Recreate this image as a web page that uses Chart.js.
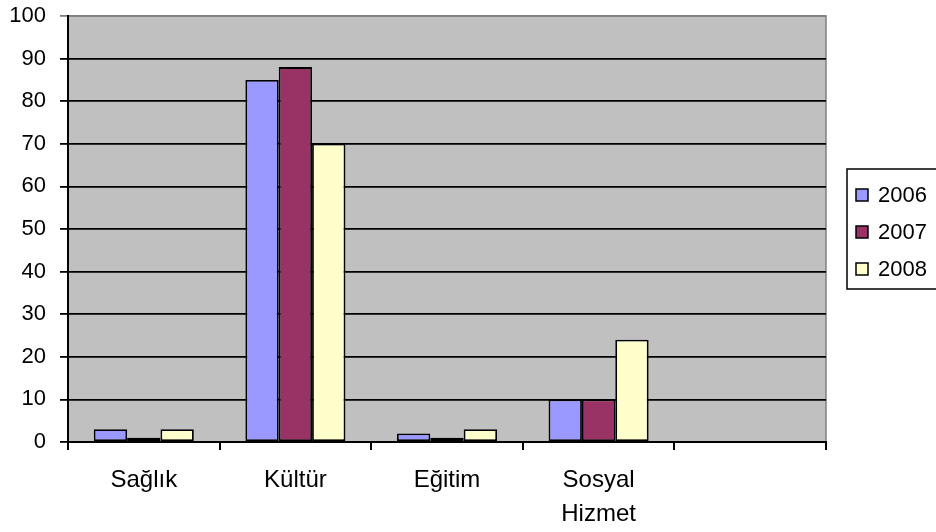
<!DOCTYPE html>
<html>
<head>
<meta charset="utf-8">
<script src="https://cdn.jsdelivr.net/npm/chart.js@4.4.1/dist/chart.umd.min.js"></script>
<style>
    html, body { margin: 0; padding: 0; background: #fff; overflow: hidden; }
    #wrap { width: 936px; height: 532px; position: relative; }
</style>
</head>
<body>
<div id="wrap"><canvas id="chart" width="936" height="532"></canvas></div>
<script>
// Chart data
const categories = ['Sağlık', 'Kültür', 'Eğitim', ['Sosyal', 'Hizmet'], ''];
const seriesNames = ['2006', '2007', '2008'];
const values2006 = [3, 85, 2, 10, null];
const values2007 = [1, 88, 1, 10, null];
const values2008 = [3, 70, 3, 24, null];
const yTicks = [0, 10, 20, 30, 40, 50, 60, 70, 80, 90, 100];

const colors = {
    s2006: '#9999FF',
    s2007: '#993366',
    s2008: '#FFFFCC',
    plotBg: '#C0C0C0',
    grid: '#000000',
    frame: '#808080',
    text: '#000000'
};

const FONT = "'Liberation Sans', Arial, sans-serif";

// gray plot background + frame
const plotBackground = {
    id: 'plotBackground',
    beforeDraw(chart) {
        const { ctx, chartArea: a } = chart;
        ctx.save();
        ctx.fillStyle = colors.plotBg;
        ctx.fillRect(a.left, a.top, a.right - a.left, a.bottom - a.top);
        ctx.strokeStyle = colors.frame;
        ctx.lineWidth = 1.5;
        ctx.beginPath();
        ctx.moveTo(a.left, a.top);
        ctx.lineTo(a.right, a.top);
        ctx.lineTo(a.right, a.bottom);
        ctx.stroke();
        ctx.restore();
    }
};

// boxed legend on the right, partly cut off by the canvas edge
const boxLegend = {
    id: 'boxLegend',
    afterDraw(chart) {
        const { ctx } = chart;
        const x = 847, y = 169, w = 110, h = 120;
        ctx.save();
        ctx.strokeStyle = '#000';
        ctx.lineWidth = 1.5;
        ctx.strokeRect(x, y, w, h);
        ctx.font = '22px ' + FONT;
        ctx.textBaseline = 'middle';
        chart.data.datasets.forEach((ds, i) => {
            const cy = 195 + i * 37;
            ctx.fillStyle = ds.backgroundColor;
            ctx.fillRect(856, cy - 6, 12, 12);
            ctx.strokeStyle = '#000';
            ctx.lineWidth = 1.5;
            ctx.strokeRect(856, cy - 6, 12, 12);
            ctx.fillStyle = colors.text;
            ctx.fillText(ds.label, 878, cy + 1);
        });
        ctx.restore();
    }
};

const ctx = document.getElementById('chart');

new Chart(ctx, {
    type: 'bar',
    data: {
        labels: categories,
        datasets: [
            { label: seriesNames[0], data: values2006, backgroundColor: colors.s2006 },
            { label: seriesNames[1], data: values2007, backgroundColor: colors.s2007 },
            { label: seriesNames[2], data: values2008, backgroundColor: colors.s2008 }
        ].map(d => Object.assign(d, {
            borderColor: '#000000',
            borderWidth: 1.8,
            borderSkipped: false,
            categoryPercentage: 0.66,
            barPercentage: 1
        }))
    },
    options: {
        responsive: false,
        animation: false,
        layout: { padding: { top: 16, right: 110, left: 0, bottom: 0 } },
        plugins: {
            legend: { display: false },
            tooltip: { enabled: false }
        },
        scales: {
            x: {
                afterFit(scale) {
                    scale.height = 90;
                    scale.paddingLeft = 0;
                    scale.paddingRight = 0;
                },
                grid: {
                    offset: true,
                    drawOnChartArea: false,
                    drawTicks: true,
                    tickLength: 8,
                    color: colors.grid,
                    lineWidth: 2
                },
                border: { color: colors.grid, width: 2 },
                ticks: {
                    color: colors.text,
                    font: { family: FONT, size: 24, lineHeight: 1.4 },
                    padding: 14,
                    maxRotation: 0,
                    autoSkip: false
                }
            },
            y: {
                min: 0,
                max: 100,
                afterFit(scale) {
                    scale.width = 68;
                    scale.paddingTop = 0;
                    scale.paddingBottom = 0;
                },
                afterBuildTicks(scale) { scale.ticks = yTicks.map(v => ({ value: v })); },
                grid: {
                    drawTicks: true,
                    tickLength: 8,
                    color: ctx2 => (ctx2.tick && ctx2.tick.value === 100) ? colors.frame : colors.grid,
                    lineWidth: 1.8
                },
                border: { color: colors.grid, width: 2 },
                ticks: {
                    color: colors.text,
                    font: { family: FONT, size: 22 },
                    padding: 14
                }
            }
        }
    },
    plugins: [plotBackground, boxLegend]
});
</script>
</body>
</html>
